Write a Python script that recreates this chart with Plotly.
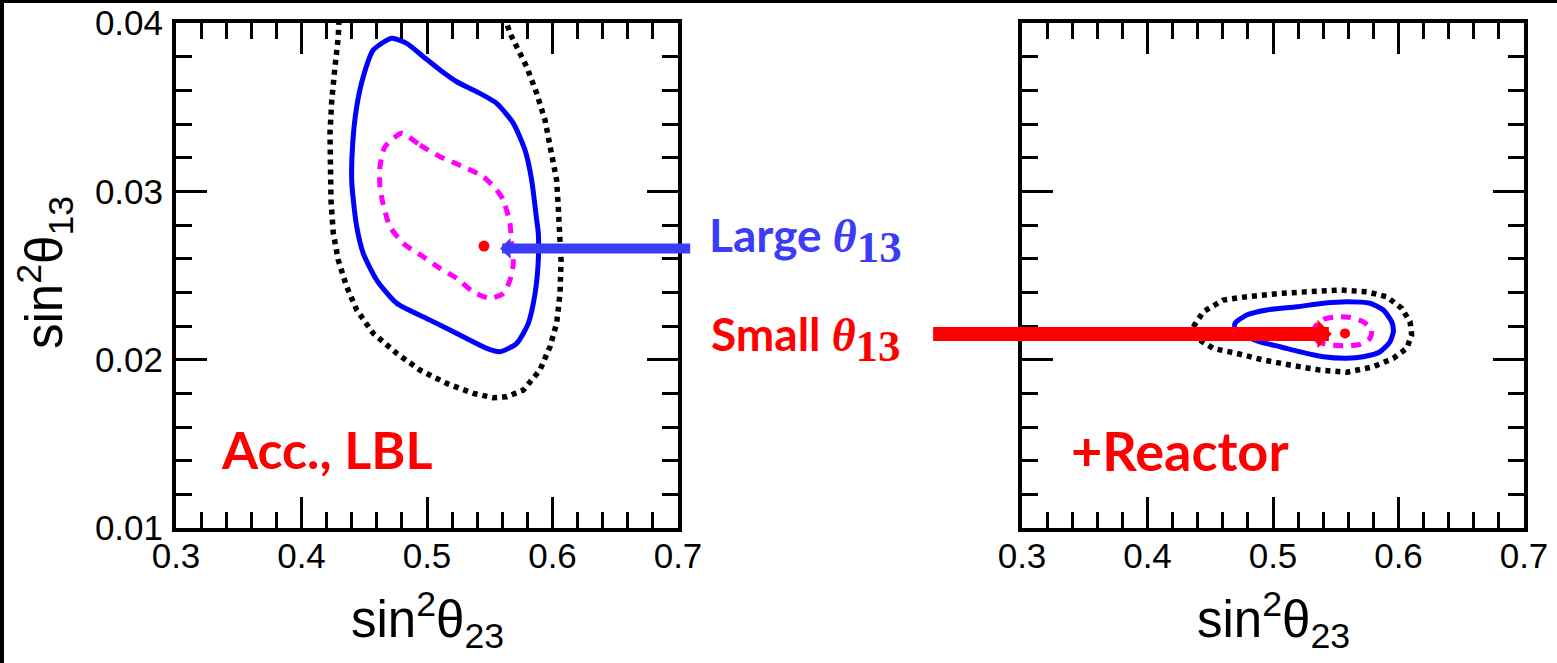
import plotly.graph_objects as go

W, H = 1557, 663

# ---------------- axis ticks ----------------
x_tickvals = [0.3, 0.4, 0.5, 0.6, 0.7]
x_ticktext = ["0.3", "0.4", "0.5", "0.6", "0.7"]
y_tickvals = [0.01, 0.02, 0.03, 0.04]
y_ticktext = ["0.01", "0.02", "0.03", "0.04"]

# ---------------- left panel: Acc., LBL ----------------
acc_solid_x = [0.4719, 0.4838, 0.4971, 0.5104, 0.5237, 0.5396, 0.5555, 0.5688, 0.5781, 0.5834,
               0.5874, 0.5887, 0.5887, 0.5861, 0.5807, 0.5715, 0.5582, 0.5476, 0.5289, 0.5024,
               0.4759, 0.4599, 0.4492, 0.4440, 0.4413, 0.4400, 0.4408, 0.4440, 0.4492, 0.4572, 0.4719]
acc_solid_y = [0.03909, 0.03879, 0.03800, 0.03721, 0.03651, 0.03592, 0.03523, 0.03404, 0.03245, 0.03067,
               0.02829, 0.02750, 0.02592, 0.02394, 0.02216, 0.02097, 0.02047, 0.02067, 0.02136, 0.02235,
               0.02335, 0.02473, 0.02632, 0.02790, 0.02948, 0.03067, 0.03285, 0.03503, 0.03681, 0.03840, 0.03909]

acc_dash_x = [0.4798, 0.4944, 0.5104, 0.5289, 0.5449, 0.5555, 0.5608, 0.5661, 0.5675, 0.5688,
              0.5661, 0.5608, 0.5502, 0.5369, 0.5237, 0.5104, 0.4971, 0.4811, 0.4705, 0.4652,
              0.4625, 0.4625, 0.4665, 0.4798]
acc_dash_y = [0.03345, 0.03275, 0.03206, 0.03146, 0.03087, 0.03008, 0.02948, 0.02810, 0.02671, 0.02572,
              0.02473, 0.02394, 0.02364, 0.02403, 0.02483, 0.02542, 0.02611, 0.02691, 0.02790, 0.02919,
              0.03027, 0.03146, 0.03265, 0.03345]

acc_dot_x = [0.4299, 0.4293, 0.4267, 0.4241, 0.4227, 0.4227, 0.4235, 0.4253, 0.4293, 0.4360,
             0.4440, 0.4572, 0.4759, 0.4944, 0.5157, 0.5369, 0.5528, 0.5635, 0.5767, 0.5900,
             0.5980, 0.6033, 0.6060, 0.6068, 0.6060, 0.6046, 0.6033, 0.5994, 0.5940, 0.5874,
             0.5794, 0.5715, 0.5661, 0.5622]
acc_dot_y = [0.04018, 0.03919, 0.03740, 0.03542, 0.03346, 0.03144, 0.02948, 0.02752, 0.02592, 0.02433,
             0.02295, 0.02156, 0.02037, 0.01938, 0.01859, 0.01800, 0.01774, 0.01780, 0.01819, 0.01938,
             0.02077, 0.02216, 0.02394, 0.02592, 0.02750, 0.02908, 0.03067, 0.03226, 0.03424, 0.03582,
             0.03740, 0.03859, 0.03939, 0.04030]

acc_best_x = [0.5454]
acc_best_y = [0.02675]

# ---------------- right panel: +Reactor ----------------
rea_solid_x = [0.4697, 0.4790, 0.4950, 0.5189, 0.5401, 0.5587, 0.5773, 0.5879, 0.5946, 0.5959,
               0.5932, 0.5853, 0.5720, 0.5587, 0.5401, 0.5215, 0.5056, 0.4896, 0.4763, 0.4697, 0.4697]
rea_solid_y = [0.02216, 0.02265, 0.02295, 0.02314, 0.02335, 0.02344, 0.02335, 0.02295, 0.02225, 0.02166,
               0.02106, 0.02047, 0.02017, 0.02008, 0.02017, 0.02047, 0.02077, 0.02106, 0.02146, 0.02186, 0.02216]

rea_dash_x = [0.5335, 0.5401, 0.5508, 0.5614, 0.5720, 0.5786, 0.5773, 0.5693, 0.5587, 0.5454,
              0.5361, 0.5327, 0.5335]
rea_dash_y = [0.02196, 0.02239, 0.02255, 0.02251, 0.02225, 0.02176, 0.02127, 0.02091, 0.02083, 0.02087,
              0.02106, 0.02146, 0.02196]

rea_dot_x = [0.4365, 0.4445, 0.4604, 0.4790, 0.5056, 0.5321, 0.5534, 0.5747, 0.5906, 0.6026,
             0.6092, 0.6105, 0.6065, 0.5959, 0.5799, 0.5587, 0.5375, 0.5135, 0.4923, 0.4711,
             0.4524, 0.4418, 0.4365, 0.4365]
rea_dot_y = [0.02196, 0.02285, 0.02354, 0.02374, 0.02394, 0.02408, 0.02414, 0.02403, 0.02374, 0.02305,
             0.02225, 0.02146, 0.02067, 0.02008, 0.01958, 0.01925, 0.01938, 0.01968, 0.01998, 0.02037,
             0.02067, 0.02116, 0.02166, 0.02196]

rea_best_x = [0.5574]
rea_best_y = [0.02156]

# arrows (tip, tail) in data units of each panel
large_arrow = dict(x=0.5582, y=0.02661, ax=0.7109, ay=0.02661)
small_arrow = dict(x=0.5468, y=0.02152, ax=0.2280, ay=0.02152)

BLUE = "#0000ff"
MAGENTA = "#ff00ff"
RED = "#ff0000"
ARROW_BLUE = "#3c3cf8"


def px2paper(px, py):
    return px / W, 1 - py / H


fig = go.Figure()


def add_panel(xa, ya, dot_x, dot_y, solid_x, solid_y, dash_x, dash_y, bx, by, msize):
    fig.add_trace(go.Scatter(x=dot_x, y=dot_y, mode="lines", xaxis=xa, yaxis=ya,
                             line=dict(color="black", width=5.5, dash="5px,5px"), showlegend=False))
    fig.add_trace(go.Scatter(x=solid_x, y=solid_y, mode="lines", xaxis=xa, yaxis=ya,
                             line=dict(color=BLUE, width=5, shape="spline", smoothing=0.6), showlegend=False))
    fig.add_trace(go.Scatter(x=dash_x, y=dash_y, mode="lines", xaxis=xa, yaxis=ya,
                             line=dict(color=MAGENTA, width=5, dash="10px,8px", shape="spline", smoothing=0.6),
                             showlegend=False))
    fig.add_trace(go.Scatter(x=bx, y=by, mode="markers", xaxis=xa, yaxis=ya,
                             marker=dict(color=RED, size=msize, line=dict(width=0)), showlegend=False))


add_panel("x", "y", acc_dot_x, acc_dot_y, acc_solid_x, acc_solid_y, acc_dash_x, acc_dash_y,
          acc_best_x, acc_best_y, 11)
add_panel("x2", "y2", rea_dot_x, rea_dot_y, rea_solid_x, rea_solid_y, rea_dash_x, rea_dash_y,
          rea_best_x, rea_best_y, 10)

tickfont = dict(family="Liberation Sans, Arial, sans-serif", size=35, color="black")
common_x = dict(range=[0.3, 0.7], tickvals=x_tickvals, ticktext=x_ticktext, ticks="inside",
                ticklen=31, tickwidth=3, tickcolor="black", showline=True, linewidth=4,
                linecolor="black", mirror="allticks", showgrid=False, zeroline=False,
                tickfont=tickfont, fixedrange=True, automargin=False, ticklabelstandoff=-6,
                minor=dict(dtick=0.02, tick0=0.3, ticks="inside", ticklen=16, tickwidth=3,
                           tickcolor="black", showgrid=False))
common_y = dict(range=[0.01, 0.04], tickvals=y_tickvals, ticktext=y_ticktext, ticks="inside",
                ticklen=31, tickwidth=3, tickcolor="black", showline=True, linewidth=4,
                linecolor="black", mirror="allticks", showgrid=False, zeroline=False,
                tickfont=tickfont, fixedrange=True, automargin=False, ticklabelstandoff=2,
                minor=dict(dtick=0.002, tick0=0.01, ticks="inside", ticklen=16, tickwidth=3,
                           tickcolor="black", showgrid=False))

ydom = [1 - 528 / H, 1 - 23 / H]
fig.update_layout(
    template="none",
    width=W, height=H,
    margin=dict(l=0, r=0, t=0, b=0, pad=0, autoexpand=False),
    paper_bgcolor="white", plot_bgcolor="white",
    xaxis=dict(common_x, domain=[176 / W, 678 / W], anchor="y"),
    yaxis=dict(common_y, domain=ydom, anchor="x"),
    xaxis2=dict(common_x, domain=[1022 / W, 1524 / W], anchor="y2"),
    yaxis2=dict(common_y, domain=ydom, anchor="x2", showticklabels=False),
)

title_font = dict(family="Liberation Sans, Arial, sans-serif", size=51, color="black")
title_x = "sin<sup>2</sup>θ<sub>23</sub>"
title_y = "sin<sup>2</sup>θ<sub>13</sub>"

ann = []
for cx in (427, 1273):
    px_, py_ = px2paper(cx, 620)
    ann.append(dict(text=title_x, x=px_, y=py_, xref="paper", yref="paper", showarrow=False,
                    xanchor="center", yanchor="middle", font=title_font))
px_, py_ = px2paper(45, 273)
ann.append(dict(text=title_y, x=px_, y=py_, xref="paper", yref="paper", showarrow=False,
                xanchor="center", yanchor="middle", textangle=-90, font=title_font))

# arrows
ann.append(dict(text="", xref="x", yref="y", axref="x", ayref="y", showarrow=True,
                arrowhead=1, arrowsize=0.35, arrowwidth=10, arrowcolor=ARROW_BLUE, standoff=0,
                **large_arrow))
ann.append(dict(text="", xref="x2", yref="y2", axref="x2", ayref="y2", showarrow=True,
                arrowhead=1, arrowsize=0.34, arrowwidth=14, arrowcolor=RED, standoff=0,
                **small_arrow))

theta13 = ("<span style='font-family:Liberation Serif'><i>θ</i>"
           "<sub><span style='font-size:45px'>13</span></sub></span>")
lab_font = dict(family="Lato, Noto Sans, sans-serif", size=46, weight="bold")

px_, py_ = px2paper(707, 239)
ann.append(dict(text="Large " + theta13, x=px_, y=py_, xref="paper", yref="paper", showarrow=False,
                xanchor="left", yanchor="middle", font=dict(lab_font, color=ARROW_BLUE)))
px_, py_ = px2paper(709, 338)
ann.append(dict(text="Small " + theta13, x=px_, y=py_, xref="paper", yref="paper", showarrow=False,
                xanchor="left", yanchor="middle", font=dict(lab_font, color=RED)))
px_, py_ = px2paper(327, 449)
ann.append(dict(text="Acc., LBL", x=px_, y=py_, xref="paper", yref="paper", showarrow=False,
                xanchor="center", yanchor="middle", font=dict(lab_font, size=52, color=RED)))
px_, py_ = px2paper(1180, 450)
ann.append(dict(text="+Reactor", x=px_, y=py_, xref="paper", yref="paper", showarrow=False,
                xanchor="center", yanchor="middle", font=dict(lab_font, size=54, color=RED)))

fig.update_layout(annotations=ann)

# slide border remnants (top and left edges)
fig.add_shape(type="rect", xref="paper", yref="paper", x0=0, x1=4 / W, y0=0, y1=1,
              fillcolor="black", line=dict(width=0), layer="above")
fig.add_shape(type="rect", xref="paper", yref="paper", x0=0, x1=1, y0=1 - 3 / H, y1=1,
              fillcolor="black", line=dict(width=0), layer="above")

fig.write_html("out.html", config={"displayModeBar": False},
               post_script="document.body.style.margin='0';document.body.style.overflow='hidden';")
